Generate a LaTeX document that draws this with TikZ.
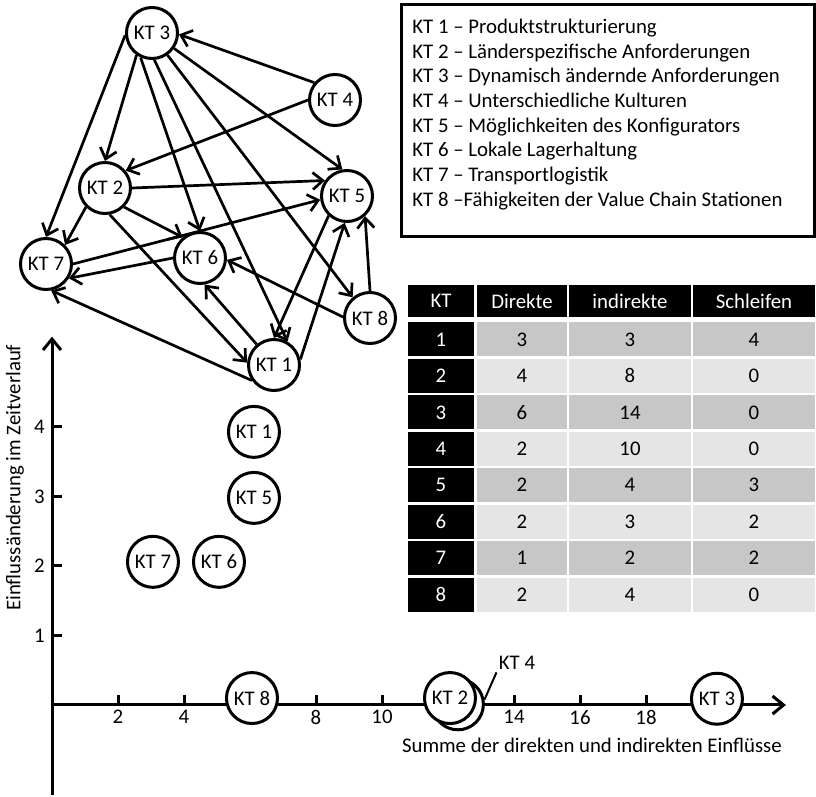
\documentclass[tikz,border=0pt]{standalone}
\usepackage{fontspec}
\setmainfont{Carlito}
\usetikzlibrary{arrows.meta}

\colorlet{rowdark}{black!22}
\colorlet{rowlight}{black!10}

\tikzset{
  kt/.style={circle, draw, line width=1.5pt, fill=white, minimum size=25.5pt, inner sep=0pt},
  infl/.style={-{Straight Barb[length=5pt,width=8.5pt]}, line width=1.35pt},
  axis/.style={-{Straight Barb[length=5.5pt,width=9pt]}, line width=1.5pt},
  cell/.style={inner sep=0pt, minimum height=17pt},
}

\begin{document}
\begin{tikzpicture}[x=0.5pt, y=-0.5pt, font=\fontsize{10.4}{12.5}\selectfont]
\useasboundingbox (0,0) rectangle (816,797);

% Einflussgraph
\node[kt] (kt1) at (274,365) {KT 1};
\node[kt] (kt2) at (105,188) {KT 2};
\node[kt] (kt3) at (152,33) {KT 3};
\node[kt] (kt4) at (335,100) {KT 4};
\node[kt] (kt5) at (347,196) {KT 5};
\node[kt] (kt6) at (200,258) {KT 6};
\node[kt] (kt7) at (46,264) {KT 7};
\node[kt] (kt8) at (370,318) {KT 8};

\draw[infl] (kt3.185) -- (kt7.north);
\draw[infl] (kt3.235) -- (kt2.north);
\draw[infl] (kt3.245) -- (kt6.north);
\draw[infl] (kt3.-85) -- (kt1.60);
\draw[infl] (kt3.-55) -- (kt8.130);
\draw[infl] (kt3.-35) -- (kt5.100);
\draw[infl] (kt4.140) -- (kt3.-3);
\draw[infl] (kt4.west) -- (kt2.40);
\draw[infl] (kt2.east) -- (kt5.145);
\draw[infl] (kt2.225) -- (kt7.45);
\draw[infl] (kt2.-45) -- (kt6.130);
\draw[infl] (kt2.-80) -- (kt1.175);
\draw[infl] (kt7.east) -- (kt5.188);
\draw[infl] (kt6.west) -- (kt7.-32);
\draw[infl] (kt1.215) -- (kt7.-79);
\draw[infl] (kt1.130) -- (kt6.-80);
\draw[infl] (kt1.12) -- (kt5.-95);
\draw[infl] (kt5.227) -- (kt1.north);
\draw[infl] (kt8.178) -- (kt6.-4);
\draw[infl] (kt8.north) -- (kt5.-48);

% Legende
\draw[line width=1.5pt] (401,5) rectangle (814,237);
\foreach \t [count=\i] in {
  {KT 1 – Produktstrukturierung},
  {KT 2 – Länderspezifische Anforderungen},
  {KT 3 – Dynamisch ändernde Anforderungen},
  {KT 4 – Unterschiedliche Kulturen},
  {KT 5 – Möglichkeiten des Konfigurators},
  {KT 6 – Lokale Lagerhaltung},
  {KT 7 – Transportlogistik},
  {KT 8 –Fähigkeiten der Value Chain Stationen}}
  \node[anchor=base west, inner sep=0pt] (leg\i) at (412,{33.5+24.65*(\i-1)}) {\t};

% Tabelle
\node[cell, fill=black, text=white, minimum width=33pt, minimum height=16pt] (hkt) at (441,301) {KT};
\node[cell, fill=black, text=white, minimum width=45pt, minimum height=16pt] (hdir) at (522,301) {Direkte};
\node[cell, fill=black, text=white, minimum width=61pt, minimum height=16pt] (hind) at (630,301) {indirekte};
\node[cell, fill=black, text=white, minimum width=61pt, minimum height=16pt] (hsch) at (754,301) {Schleifen};
\foreach \kt/\dir/\ind/\sch/\col [count=\i] in
  {1/3/3/4/rowdark, 2/4/8/0/rowlight, 3/6/14/0/rowdark, 4/2/10/0/rowlight,
   5/2/4/3/rowdark, 6/2/3/2/rowlight, 7/1/2/2/rowdark, 8/2/4/0/rowlight} {
  \pgfmathsetmacro\ry{339.5+36.43*(\i-1)}
  \node[cell, fill=black, text=white, minimum width=33pt] (kt\i) at (441,\ry) {\kt};
  \node[cell, fill=\col, minimum width=45pt] (dir\i) at (522,\ry) {\dir};
  \node[cell, fill=\col, minimum width=61pt] (ind\i) at (630,\ry) {\ind};
  \node[cell, fill=\col, minimum width=61pt] (sch\i) at (754,\ry) {\sch};
}

% Diagramm
\begin{scope}[shift={(52,705)}, x=16.5pt, y=34.75pt]
  \draw[axis] (0,-1.3) -- (0,5.3);
  \draw[axis] (0,0) -- (22.24,0);
  \foreach \x in {2,4,8,10,14,16,18} {
    \draw[line width=1.5pt] (\x,0) -- (\x,0.144);
    \node[anchor=north, inner sep=1pt] (xt\x) at (\x,-0.04) {\x};
  }
  \foreach \y in {1,...,4} {
    \draw[line width=1.5pt] (0,\y) -- (0.3,\y);
    \node[anchor=east, inner sep=1pt] (yt\y) at (-0.15,\y) {\y};
  }
  \node[rotate=90] (ylab) at (-1.12,3.27) {Einflussänderung im Zeitverlauf};
  \node (xlab) at (16.36,-0.576) {Summe der direkten und indirekten Einflüsse};

  \node[kt] (c1) at (6.12,3.93) {KT 1};
  \node[kt] (c5) at (6.12,2.98) {KT 5};
  \node[kt] (c7) at (3.06,2.06) {KT 7};
  \node[kt] (c6) at (5.06,2.06) {KT 6};
  \node[kt] (c8) at (6.06,0.1) {KT 8};
  \node[kt] (c4) at (12.3,0.01) {};
  \node[kt] (c2) at (12.06,0.1) {KT 2};
  \node[kt] (c3) at (20.15,0.09) {KT 3};
  \node[inner sep=1pt] (c4lab) at (14.09,0.6) {KT 4};
  \draw[line width=1pt] (c4lab.south west) -- (c4.10);
\end{scope}
\end{tikzpicture}
\end{document}
